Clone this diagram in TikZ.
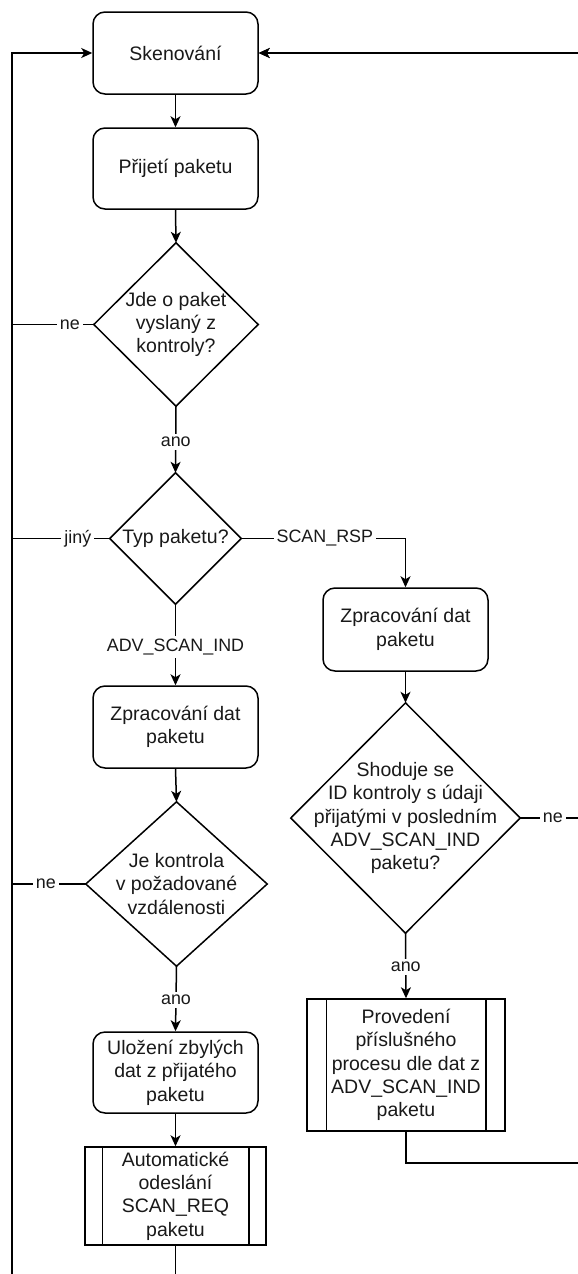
\documentclass[tikz,border=0pt]{standalone}
\usepackage{fontspec}
\setmainfont{Liberation Sans}
\usetikzlibrary{arrows.meta}
\begin{document}
\begin{tikzpicture}[x=1pt,y=-1pt,
  line/.style={draw=black,line width=1.5pt},
  arr/.style={line,-{Stealth[length=11pt,width=10pt,inset=3pt]}},
  txt/.style={font=\fontsize{19.5}{23.4}\selectfont,text=black!90,align=center,inner sep=0pt},
  proc/.style={txt,line,rounded corners=12pt,minimum width=165pt},
  decision/.style={txt,draw=none},
  subproc/.style={txt,line,minimum width=181pt},
  lbl/.style={font=\fontsize{17.9}{21.5}\selectfont,text=black!90,fill=white,inner sep=3pt}
]
\useasboundingbox[fill=white] (0,0) rectangle (578,1274);

% left column
\node[proc,minimum height=82pt] (sken) at (175.5,53) {Skenování};
\node[proc,minimum height=81pt] (prij) at (175.5,168.5) {Přijetí paketu};
\node[decision,minimum width=164pt,minimum height=163pt] (d1) at (176,324.5)
  {Jde o paket\\vyslaný z\\kontroly?};
\node[decision,minimum width=131pt,minimum height=131pt] (d2) at (175.5,538.5) {Typ paketu?};
\node[proc,minimum height=82pt] (zpr1) at (175.5,727) {Zpracování dat\\paketu};
\node[decision,minimum width=181pt,minimum height=164pt] (d4) at (176.5,884)
  {Je kontrola\\v požadované\\vzdálenosti};
\node[proc,minimum height=81pt] (ulo) at (175.5,1072.5) {Uložení zbylých\\dat z přijatého\\paketu};
\node[subproc,minimum height=98pt] (auto) at (175.5,1196)
  {Automatické\\odeslání\\SCAN\_REQ\\paketu};

% right column
\node[proc,minimum height=83pt] (zpr2) at (405.5,629.5) {Zpracování dat\\paketu};
\node[decision,minimum width=229pt,minimum height=230pt] (d3) at (405.5,818)
  {Shoduje se\\ID kontroly s údaji\\přijatými v posledním\\ADV\_SCAN\_IND\\paketu?};
\node[subproc,minimum width=198pt,minimum height=132pt] (prov) at (406,1065)
  {Provedení\\příslušného\\procesu dle dat z\\ADV\_SCAN\_IND\\paketu};

% decision outlines
\foreach \d in {d1,d2,d3,d4}
  \draw[line,line join=miter] (\d.north) -- (\d.east) -- (\d.south) -- (\d.west) -- cycle;

% side bars of the predefined-process boxes
\draw[line] ([xshift=18pt]auto.north west) -- ([xshift=18pt]auto.south west);
\draw[line] ([xshift=-18pt]auto.north east) -- ([xshift=-18pt]auto.south east);
\draw[line] ([xshift=20pt]prov.north west) -- ([xshift=20pt]prov.south west);
\draw[line] ([xshift=-20pt]prov.north east) -- ([xshift=-20pt]prov.south east);

% return rails (left one visible, right one beyond the page edge)
\coordinate (LB) at (12,1290);
\coordinate (RB) at (600,1163);

% main flow
\draw[arr] (sken.south) -- (prij.north);
\draw[arr] (prij.south) -- (d1.north);
\draw[arr] (d1.south) -- node[lbl,pos=.537]{ano} (d2.north);
\draw[arr] (d2.south) -- node[lbl,pos=.524]{ADV\_SCAN\_IND} (zpr1.north);
\draw[arr] (zpr1.south) -- (d4.north);
\draw[arr] (d4.south) -- node[lbl,pos=.515]{ano} (ulo.north);
\draw[arr] (ulo.south) -- (auto.north);
\draw[arr] (auto.south) |- (LB) |- (sken.west);

% negative branches joining the left rail
\draw[line] (d1.west) -- node[lbl,pos=.293]{ne} (d1.west -| LB);
\draw[line] (d2.west) -- node[lbl,pos=.327]{jiný} (d2.west -| LB);
\draw[line] (d4.west) -- node[lbl,pos=.54]{ne} (d4.west -| LB);

% SCAN_RSP branch
\draw[arr] (d2.east) -| node[lbl,pos=.2545]{SCAN\_RSP} (zpr2.north);
\draw[arr] (zpr2.south) -- (d3.north);
\draw[arr] (d3.south) -- node[lbl,pos=.515]{ano} (prov.north);
\draw[arr] (d3.east) -- node[lbl,pos=.41]{ne} (d3.east -| RB) |- (sken.east);
\draw[arr] (prov.south) |- (RB) |- (sken.east);
\end{tikzpicture}
\end{document}
